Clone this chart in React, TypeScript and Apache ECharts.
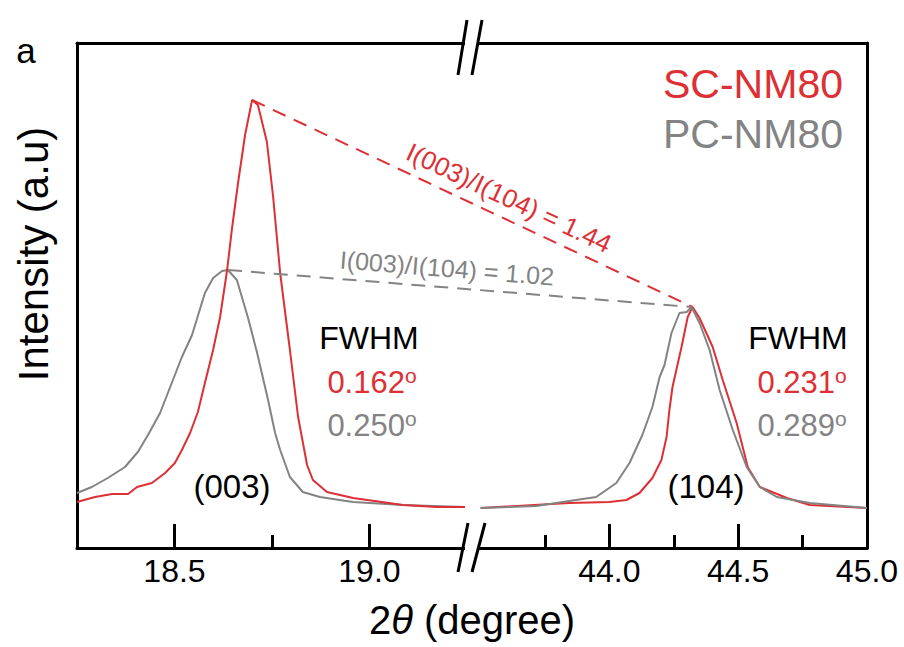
import React, { useEffect, useRef } from "react";
import * as echarts from "echarts";

// ---- Data (2θ in degrees, intensity in arbitrary counts) ----
const leftRedTheta = [18.25, 18.296, 18.34, 18.381, 18.404, 18.442, 18.476, 18.501, 18.519, 18.54, 18.56, 18.578, 18.599, 18.617, 18.635, 18.647, 18.663, 18.681, 18.699, 18.714, 18.737, 18.753, 18.771, 18.796, 18.817, 18.84, 18.855, 18.891, 18.958, 19.086, 19.173, 19.245];
const leftRedCounts = [920, 1020, 1080, 1080, 1220, 1300, 1500, 1700, 1960, 2300, 2720, 3300, 3960, 4620, 5560, 6360, 7300, 8260, 8960, 8860, 8120, 7020, 5500, 3960, 2620, 1660, 1360, 1120, 1000, 860, 820, 820];

const leftGrayTheta = [18.25, 18.288, 18.329, 18.373, 18.406, 18.432, 18.463, 18.496, 18.519, 18.545, 18.578, 18.599, 18.622, 18.637, 18.66, 18.688, 18.712, 18.74, 18.758, 18.771, 18.796, 18.829, 18.873, 18.958, 19.086, 19.245];
const leftGrayCounts = [1100, 1220, 1400, 1620, 1920, 2260, 2700, 3360, 3820, 4260, 5100, 5400, 5540, 5560, 5360, 4620, 3900, 2960, 2300, 1960, 1420, 1120, 1020, 920, 860, 820];

const rightRedTheta = [43.5, 43.844, 44.0, 44.066, 44.117, 44.167, 44.202, 44.222, 44.233, 44.245, 44.28, 44.304, 44.323, 44.35, 44.401, 44.44, 44.494, 44.537, 44.584, 44.689, 44.778, 45.0];
const rightRedCounts = [800, 900, 920, 960, 1100, 1400, 1760, 2220, 2760, 3220, 4020, 4620, 4820, 4600, 4020, 3360, 2500, 1620, 1220, 1000, 860, 800];

const rightGrayTheta = [43.5, 43.716, 43.844, 43.949, 44.027, 44.078, 44.128, 44.167, 44.195, 44.214, 44.241, 44.272, 44.3, 44.319, 44.35, 44.389, 44.428, 44.479, 44.533, 44.584, 44.65, 44.778, 45.0];
const rightGrayCounts = [800, 840, 940, 1020, 1300, 1700, 2260, 2820, 3420, 3660, 4300, 4700, 4720, 4820, 4500, 3960, 3160, 2360, 1620, 1220, 1020, 900, 800];

const leftMajorTicks = [18.5, 19.0];
const leftMinorTicks = [18.75];
const rightMajorTicks = [44.0, 44.5, 45.0];
const rightMinorTicks = [43.75, 44.25, 44.75];

const seriesNames = ["SC-NM80", "PC-NM80"];
const fwhmLeft = ["0.162", "0.250"];
const fwhmRight = ["0.231", "0.289"];
const ratioLabels = ["I(003)/I(104) = 1.44", "I(003)/I(104) = 1.02"];
const peakLabels = ["(003)", "(104)"];

const RED = "#dc3035";
const GRAY = "#838383";
const FONT = "'Liberation Sans', Arial, Helvetica, sans-serif";

const zip = (xs: number[], ys: number[]) => xs.map((x, i) => [x, ys[i]]);
const peakOf = (xs: number[], ys: number[]) => {
  let k = 0;
  ys.forEach((v, i) => { if (v > ys[k]) k = i; });
  return [xs[k], ys[k]];
};

export default function App() {
  const ref = useRef<HTMLDivElement>(null);
  useEffect(() => {
    const chart = echarts.init(ref.current!, null, { renderer: "svg" });
    const frame = { lineStyle: { color: "#000", width: 3 }, onZero: false };
    const majorX = (gi: number, min: number, max: number, ticks: number[]) => ({
      type: "value", gridIndex: gi, min, max, position: "bottom",
      axisLine: { show: true, ...frame },
      axisTick: { show: true, inside: true, length: 24, customValues: ticks, lineStyle: { color: "#000", width: 3 } },
      axisLabel: { show: true, customValues: ticks, formatter: (v: number) => v.toFixed(1), fontSize: 32, color: "#000", fontFamily: FONT, margin: 7 },
      splitLine: { show: false },
    });
    const minorX = (gi: number, min: number, max: number, ticks: number[]) => ({
      type: "value", gridIndex: gi, min, max, position: "bottom",
      axisLine: { show: false, onZero: false },
      axisTick: { show: true, inside: true, length: 13, customValues: ticks, lineStyle: { color: "#000", width: 3 } },
      axisLabel: { show: false },
      splitLine: { show: false },
    });
    const topX = (gi: number, min: number, max: number) => ({
      type: "value", gridIndex: gi, min, max, position: "top",
      axisLine: { show: true, ...frame },
      axisTick: { show: false }, axisLabel: { show: false }, splitLine: { show: false },
    });
    const LMIN = 18.25, LMAX = 19.245, RMIN = 43.49, RMAX = 45.0;
    const option: any = {
      animation: false,
      backgroundColor: "#fff",
      grid: [
        { left: 77, top: 43, width: 388, height: 505 },
        { left: 478, top: 43, width: 389, height: 505 },
      ],
      xAxis: [
        majorX(0, LMIN, LMAX, leftMajorTicks),
        minorX(0, LMIN, LMAX, leftMinorTicks),
        topX(0, LMIN, LMAX),
        majorX(1, RMIN, RMAX, rightMajorTicks),
        minorX(1, RMIN, RMAX, rightMinorTicks),
        topX(1, RMIN, RMAX),
      ],
      yAxis: [
        { type: "value", gridIndex: 0, min: 0, max: 10100, position: "left", axisLine: { show: true, ...frame }, axisTick: { show: false }, axisLabel: { show: false }, splitLine: { show: false } },
        { type: "value", gridIndex: 1, min: 0, max: 10100, position: "right", axisLine: { show: true, ...frame }, axisTick: { show: false }, axisLabel: { show: false }, splitLine: { show: false } },
      ],
      series: [
        { name: seriesNames[1], type: "line", xAxisIndex: 0, yAxisIndex: 0, data: zip(leftGrayTheta, leftGrayCounts), showSymbol: false, lineStyle: { color: GRAY, width: 2 }, itemStyle: { color: GRAY } },
        { name: seriesNames[0], type: "line", xAxisIndex: 0, yAxisIndex: 0, data: zip(leftRedTheta, leftRedCounts), showSymbol: false, lineStyle: { color: RED, width: 2 }, itemStyle: { color: RED } },
        { name: seriesNames[0] + " (104)", type: "line", xAxisIndex: 3, yAxisIndex: 1, data: zip(rightRedTheta, rightRedCounts), showSymbol: false, lineStyle: { color: RED, width: 2 }, itemStyle: { color: RED } },
        { name: seriesNames[1] + " (104)", type: "line", xAxisIndex: 3, yAxisIndex: 1, data: zip(rightGrayTheta, rightGrayCounts), showSymbol: false, lineStyle: { color: GRAY, width: 2 }, itemStyle: { color: GRAY } },
      ],
    };
    chart.setOption(option);

    const pRedL = chart.convertToPixel({ seriesIndex: 1 }, peakOf(leftRedTheta, leftRedCounts)) as number[];
    const pGrayL = chart.convertToPixel({ seriesIndex: 0 }, peakOf(leftGrayTheta, leftGrayCounts)) as number[];
    const pRedR = chart.convertToPixel({ seriesIndex: 2 }, peakOf(rightRedTheta, rightRedCounts)) as number[];
    const pGrayR = chart.convertToPixel({ seriesIndex: 3 }, peakOf(rightGrayTheta, rightGrayCounts)) as number[];
    const angRed = Math.atan2(pRedR[1] - pRedL[1], pRedR[0] - pRedL[0]);
    const angGray = Math.atan2(pGrayR[1] - pGrayL[1], pGrayR[0] - pGrayL[0]);

    const txt = (x: number, y: number, text: string, size: number, fill: string, extra: any = {}) => ({
      type: "text", x, y, silent: true, z: 10, ...extra,
      style: { text, fill, font: `${extra.fontStyle || "normal"} ${size}px ${FONT}`, align: "center", verticalAlign: "middle", textAlign: "center", textVerticalAlign: "middle" },
    });
    const deg = (x: number, y: number, val: string, color: string) => ({
      type: "text", x, y, silent: true, z: 10,
      style: {
        text: `{a|${val}}{b|o}`, align: "center", verticalAlign: "middle", textAlign: "center", textVerticalAlign: "middle",
        rich: {
          a: { fontSize: 31, fontFamily: FONT, fill: color, lineHeight: 34 },
          b: { fontSize: 21, fontFamily: FONT, fill: color, verticalAlign: "top", lineHeight: 20 },
        },
      },
    });
    const slash = (x1: number, y1: number, x2: number, y2: number) => ({
      type: "line", silent: true, z: 20, shape: { x1, y1, x2, y2 }, style: { stroke: "#000", lineWidth: 3 },
    });

    const graphic: any[] = [
      // break gaps
      { type: "rect", silent: true, z: 15, shape: { x: 465, y: 36, width: 13, height: 14 }, style: { fill: "#fff" } },
      { type: "rect", silent: true, z: 15, shape: { x: 465, y: 541, width: 13, height: 14 }, style: { fill: "#fff" } },
      slash(458, 75, 467, 20), slash(472, 75, 482, 20),
      slash(458, 572, 468, 523), slash(472, 572, 485, 523),
      // ratio connectors
      { type: "line", silent: true, z: 5, shape: { x1: pRedL[0], y1: pRedL[1], x2: pRedR[0], y2: pRedR[1] }, style: { stroke: RED, lineWidth: 2, lineDash: [14, 9] } },
      { type: "line", silent: true, z: 5, shape: { x1: pGrayL[0], y1: pGrayL[1], x2: pGrayR[0], y2: pGrayR[1] }, style: { stroke: GRAY, lineWidth: 2, lineDash: [14, 9] } },
      txt(509, 198, ratioLabels[0], 26, RED, { rotation: -angRed }),
      txt(447, 268, ratioLabels[1], 25, GRAY, { rotation: -angGray }),
      // legend
      { type: "text", x: 843, y: 84, silent: true, z: 10, style: { text: seriesNames[0], fill: RED, font: `41px ${FONT}`, align: "right", verticalAlign: "middle", textAlign: "right", textVerticalAlign: "middle" } },
      { type: "text", x: 843, y: 134, silent: true, z: 10, style: { text: seriesNames[1], fill: GRAY, font: `41px ${FONT}`, align: "right", verticalAlign: "middle", textAlign: "right", textVerticalAlign: "middle" } },
      // FWHM
      txt(369, 338, "FWHM", 32, "#000"),
      deg(372, 382, fwhmLeft[0], RED),
      deg(372, 425, fwhmLeft[1], GRAY),
      txt(798, 338, "FWHM", 32, "#000"),
      deg(802, 382, fwhmRight[0], RED),
      deg(802, 425, fwhmRight[1], GRAY),
      // peaks
      txt(232, 486, peakLabels[0], 33, "#000"),
      txt(706, 486, peakLabels[1], 33, "#000"),
      // panel letter
      txt(26, 50, "a", 35, "#000"),
      // axis titles
      txt(33, 254, "Intensity (a.u)", 42, "#000", { rotation: Math.PI / 2 }),
      {
        type: "text", x: 472, y: 620, silent: true, z: 10,
        style: {
          text: "{n|2}{i|θ}{n| (degree)}", align: "center", verticalAlign: "middle", textAlign: "center", textVerticalAlign: "middle",
          rich: {
            n: { fontSize: 40, fontFamily: FONT, fill: "#000" },
            i: { fontSize: 40, fontFamily: FONT, fontStyle: "italic", fill: "#000" },
          },
        },
      },
    ];
    chart.setOption({ graphic });
    return () => chart.dispose();
  }, []);
  return <div ref={ref} style={{ position: "fixed", left: 0, top: 0, width: 904, height: 647 }} />;
}
